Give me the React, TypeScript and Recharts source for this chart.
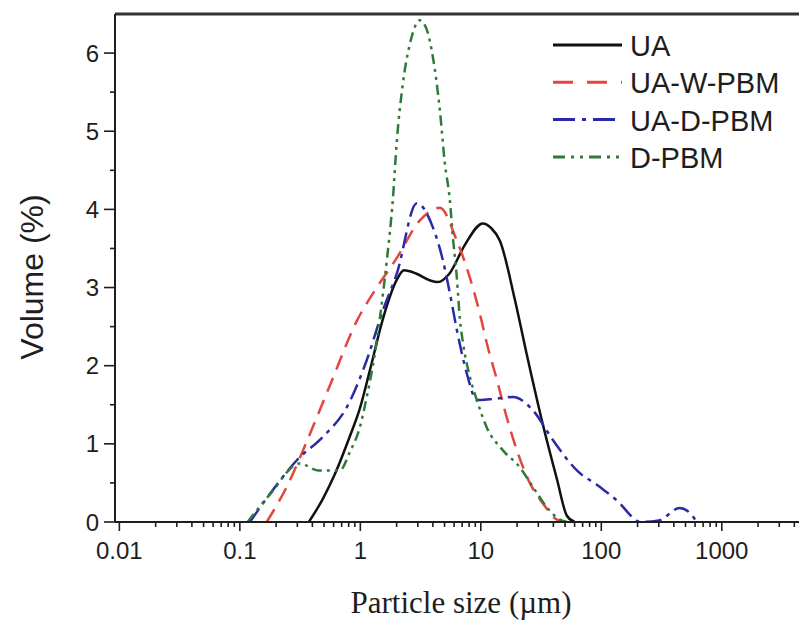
import React from 'react';
import { LineChart, Line, XAxis, YAxis, ReferenceLine, Legend, Label } from 'recharts';

// ---------- data (particle size in µm, volume in %) ----------
const uaPoints: [number, number][] = [
  [0.374, 0], [0.49, 0.3], [0.61, 0.6], [0.82, 1.1], [0.99, 1.45], [1.2, 1.94],
  [1.54, 2.6], [2.01, 3.1], [2.3, 3.22], [2.9, 3.18], [3.8, 3.09], [4.4, 3.07],
  [5.5, 3.18], [7.4, 3.55], [10.4, 3.82], [12.2, 3.76], [14.4, 3.6], [19.2, 2.84],
  [24.1, 2.14], [32.7, 1.25], [42.8, 0.55], [51.8, 0.08], [60, 0],
];
const uaWPoints: [number, number][] = [
  [0.167, 0], [0.245, 0.45], [0.38, 1.12], [0.56, 1.75], [0.94, 2.58], [1.37, 3.0],
  [2.01, 3.38], [3.12, 3.86], [4.57, 4.02], [6.32, 3.6], [8.1, 3.13], [9.8, 2.67],
  [11.2, 2.29], [13.6, 1.82], [16.4, 1.34], [19.9, 0.92], [25.5, 0.5], [32.7, 0.24],
  [42.8, 0.03], [50, 0],
];
const uaDPoints: [number, number][] = [
  [0.121, 0], [0.188, 0.41], [0.297, 0.79], [0.489, 1.09], [0.773, 1.47], [1.13, 2.07],
  [1.54, 2.71], [2.01, 3.18], [2.94, 4.08], [4.0, 3.77], [4.84, 3.35], [5.53, 2.93],
  [6.32, 2.46], [7.65, 1.9], [9.27, 1.56], [11.9, 1.57], [18.5, 1.6], [27, 1.43],
  [39.6, 1.05], [62.7, 0.66], [97, 0.45], [142, 0.24], [182, 0.06], [209, 0],
  [300, 0.02], [448, 0.18], [540, 0.12], [620, 0],
];
const dPoints: [number, number][] = [
  [0.116, 0], [0.177, 0.35], [0.315, 0.75], [0.444, 0.66], [0.676, 0.66], [0.82, 0.9],
  [0.99, 1.21], [1.13, 1.6], [1.27, 2.0], [1.45, 2.6], [1.66, 3.35], [1.86, 4.12],
  [2.01, 4.88], [2.25, 5.6], [2.58, 6.12], [3.12, 6.42], [3.56, 6.3], [4.0, 5.95],
  [4.57, 5.27], [5.02, 4.6], [5.53, 4.12], [5.86, 3.65], [6.32, 3.13], [6.7, 2.6],
  [7.1, 2.3], [8.1, 1.86], [9.27, 1.56], [11.2, 1.21], [15.2, 0.92], [21.1, 0.7],
  [27, 0.45], [35.3, 0.19], [45.3, 0.03], [52, 0],
];

const seriesNames = ['UA', 'UA-W-PBM', 'UA-D-PBM', 'D-PBM'];
const xTicksMajor = [0.01, 0.1, 1, 10, 100, 1000];
const xTickLabels = ['0.01', '0.1', '1', '10', '100', '1000'];
const xMinorMultipliers = [2, 3, 4, 5, 6, 7, 8, 9];
const yTicksMajor = [0, 1, 2, 3, 4, 5, 6];
const yTicksMinor = [0.5, 1.5, 2.5, 3.5, 4.5, 5.5];
const xTitle = 'Particle size (µm)';
const yTitle = 'Volume (%)';

// ---------- derived tables ----------
const toRows = (pts: [number, number][]) => pts.map(([x, y]) => ({ x, y }));
const allSeries = [uaPoints, uaWPoints, uaDPoints, dPoints].map(toRows);
const xTicksAll = [
  ...xTicksMajor,
  ...xTicksMajor.flatMap((d) => xMinorMultipliers.map((m) => +(d * m).toPrecision(6))),
].sort((a, b) => a - b);
const yTicksAll = [...yTicksMajor, ...yTicksMinor].sort((a, b) => a - b);

// ---------- styles ----------
const SANS = '"Liberation Sans", Arial, Helvetica, sans-serif';
const SERIF = '"Liberation Serif", "Times New Roman", serif';
const INK = '#1e1e1e';
const seriesStyles = [
  { stroke: '#111111', dash: undefined as string | undefined, legendDash: undefined as string | undefined },
  { stroke: '#e2463f', dash: '15 9', legendDash: '20 14' },
  { stroke: '#2a2aa6', dash: '16 6 4 6', legendDash: '22 7 4 7' },
  { stroke: '#2f7a3a', dash: '10 5 3 5 3 5', legendDash: '12 6 3 6 3 6' },
];

const XTick = (props: any) => {
  const { x, y, payload } = props;
  const v = payload.value;
  const idx = xTicksMajor.findIndex((m) => Math.abs(m - v) / m < 1e-6);
  const major = idx >= 0;
  return (
    <g>
      <line x1={x} x2={x} y1={y} y2={y + (major ? 9 : 5)} stroke={INK} strokeWidth={1.6} />
      {major && (
        <text x={x} y={y + 37} textAnchor="middle" fontSize={24} fontFamily={SANS} fill={INK}>
          {xTickLabels[idx]}
        </text>
      )}
    </g>
  );
};

const YTick = (props: any) => {
  const { x, y, payload } = props;
  const v = payload.value;
  const major = Number.isInteger(v);
  return (
    <g>
      <line x1={x - (major ? 11 : 5)} x2={x} y1={y} y2={y} stroke={INK} strokeWidth={1.6} />
      {major && (
        <text x={x - 16} y={y + 8.6} textAnchor="end" fontSize={24} fontFamily={SANS} fill={INK}>
          {v}
        </text>
      )}
    </g>
  );
};

const LEG_LEFT = 545;
const LEG_TOP = 20;
const renderLegend = () => (
  <svg width={260} height={160} style={{ display: 'block' }}>
    {seriesNames.map((name, i) => {
      const cy = 45 - LEG_TOP + i * 37.3;
      const st = seriesStyles[i];
      return (
        <g key={name}>
          <line x1={8} x2={77} y1={cy} y2={cy} stroke={st.stroke} strokeWidth={3} strokeDasharray={st.legendDash} />
          <text x={85} y={cy + 11} fontSize={29} fontFamily={SANS} fill={INK}>
            {name}
          </text>
        </g>
      );
    })}
  </svg>
);

export default function App() {
  return (
    <div style={{ position: 'absolute', left: 0, top: 0, width: 799, height: 626, overflow: 'hidden', background: '#fff' }}>
      <LineChart width={806} height={626} margin={{ top: 14, right: 0, bottom: 0, left: 0 }}>
        <XAxis
          type="number"
          dataKey="x"
          scale="log"
          domain={[0.0092, 5000]}
          allowDataOverflow
          ticks={xTicksAll}
          interval={0}
          tick={<XTick />}
          tickLine={false}
          tickSize={0}
          tickMargin={0}
          height={104}
          axisLine={{ stroke: INK, strokeWidth: 2 }}
        >
          <Label
            content={() => (
              <text x={461} y={613} textAnchor="middle" fontSize={31} fontFamily={SERIF} fill={INK}>
                {xTitle}
              </text>
            )}
          />
        </XAxis>
        <YAxis
          type="number"
          domain={[0, 6.5]}
          allowDataOverflow
          ticks={yTicksAll}
          interval={0}
          tick={<YTick />}
          tickLine={false}
          tickSize={0}
          tickMargin={0}
          width={115}
          axisLine={{ stroke: INK, strokeWidth: 2 }}
        >
          <Label
            content={() => (
              <text x={43} y={277} transform="rotate(-90 43 277)" textAnchor="middle" fontSize={32} fontFamily={SANS} fill={INK}>
                {yTitle}
              </text>
            )}
          />
        </YAxis>
        <ReferenceLine y={6.5} stroke="#333" strokeWidth={3} />
        {allSeries.map((rows, i) => (
          <Line
            key={seriesNames[i]}
            name={seriesNames[i]}
            data={rows}
            dataKey="y"
            type="monotone"
            stroke={seriesStyles[i].stroke}
            strokeWidth={2.5}
            strokeDasharray={seriesStyles[i].dash}
            dot={false}
            activeDot={false}
            isAnimationActive={false}
          />
        ))}
        <Legend
          layout="vertical"
          align="center"
          verticalAlign="middle"
          content={renderLegend}
          wrapperStyle={{ position: 'absolute', left: LEG_LEFT, top: LEG_TOP, width: 260, height: 160 }}
        />
      </LineChart>
    </div>
  );
}
